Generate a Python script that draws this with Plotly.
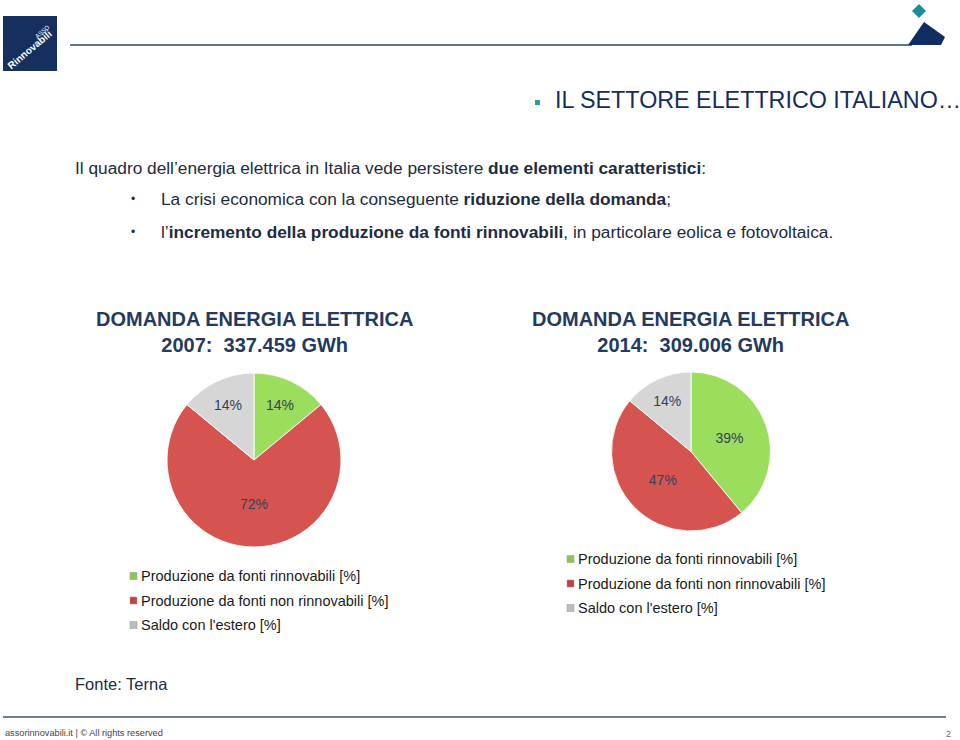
import plotly.graph_objects as go

# ---- data ----
categories = ["Produzione da fonti rinnovabili [%]",
              "Produzione da fonti non rinnovabili [%]",
              "Saldo con l'estero [%]"]
values_2007 = [14, 72, 14]
values_2014 = [39, 47, 14]
titles = ["DOMANDA ENERGIA ELETTRICA<br>2007:  337.459 GWh",
          "DOMANDA ENERGIA ELETTRICA<br>2014:  309.006 GWh"]

W, H = 960, 740
def px(x): return x / W
def py(y): return 1 - y / H

slice_colors = ["#9BDD5C", "#D65450", "#D6D6D6"]
legend_colors = ["#8CC84B", "#C8403F", "#BDBDBD"]
TXT = "#1E2B40"
FONT = "Liberation Sans, Arial"

fig = go.Figure()

# pies
for vals, (x0, x1, y0, y1) in [(values_2007, (167, 341, 373, 547)),
                                (values_2014, (611, 771, 372, 531))]:
    fig.add_trace(go.Pie(
        labels=categories, values=vals, sort=False, direction="clockwise",
        rotation=0, hole=0,
        marker=dict(colors=slice_colors, line=dict(color="rgba(255,255,255,0.9)", width=1)),
        texttemplate="%{value}%", textposition="inside",
        insidetextorientation="horizontal",
        textfont=dict(family=FONT, size=14, color="#34405A"),
        domain=dict(x=[px(x0), px(x1)], y=[py(y1), py(y0)]),
        showlegend=False, hoverinfo="label+value",
    ))

shapes = []
ann = []

# logo
shapes.append(dict(type="rect", xref="paper", yref="paper", x0=px(3), x1=px(57),
                   y0=py(71), y1=py(16), fillcolor="#15305F", line=dict(width=0)))
ann.append(dict(text="<b>Rinnovabili</b>", x=px(30), y=py(50), textangle=-40, xanchor="center",
                font=dict(family=FONT, size=10, color="white")))
ann.append(dict(text="ASSO", x=px(42), y=py(32), textangle=-40, xanchor="center",
                font=dict(family=FONT, size=6, color="white")))

# top line and right decoration
shapes.append(dict(type="line", xref="paper", yref="paper", x0=px(70), x1=px(912),
                   y0=py(45), y1=py(45), line=dict(color="#2D4A68", width=1.5)))
shapes.append(dict(type="path", xref="paper", yref="paper",
                   path=f"M {px(924)},{py(22)} L {px(945)},{py(37)} L {px(941)},{py(45)} L {px(908)},{py(45)} Z",
                   fillcolor="#0F2D62", line=dict(width=0)))
shapes.append(dict(type="path", xref="paper", yref="paper",
                   path=f"M {px(919)},{py(4)} L {px(926)},{py(11)} L {px(919)},{py(18)} L {px(912)},{py(11)} Z",
                   fillcolor="#1B8C9B", line=dict(width=0)))

# title
shapes.append(dict(type="rect", xref="paper", yref="paper", x0=px(535), x1=px(540),
                   y0=py(105), y1=py(100), fillcolor="#2A9A9A", line=dict(width=0)))
ann.append(dict(text="IL SETTORE ELETTRICO ITALIANO…", x=px(553), y=py(100), xanchor="left",
                font=dict(family=FONT, size=23.3, color="#172C5E")))

# body text
BS = 17.3
ann.append(dict(text="Il quadro dell’energia elettrica in Italia vede persistere <b>due elementi caratteristici</b>:",
                x=px(73), y=py(168), xanchor="left",
                font=dict(family=FONT, size=BS, color=TXT)))
ann.append(dict(text="•", x=px(129), y=py(199), xanchor="left",
                font=dict(family=FONT, size=12, color=TXT)))
ann.append(dict(text="La crisi economica con la conseguente <b>riduzione della domanda</b>;",
                x=px(159), y=py(199), xanchor="left",
                font=dict(family=FONT, size=BS, color=TXT)))
ann.append(dict(text="•", x=px(129), y=py(232), xanchor="left",
                font=dict(family=FONT, size=12, color=TXT)))
ann.append(dict(text="l’<b>incremento della produzione da fonti rinnovabili</b>, in particolare eolica e fotovoltaica.",
                x=px(159), y=py(232), xanchor="left",
                font=dict(family=FONT, size=BS, color=TXT)))

# chart titles
for t, cx in zip(titles, [254, 690]):
    ann.append(dict(text=f"<b>{t}</b>", x=px(cx), y=py(332), xanchor="center",
                    font=dict(family=FONT, size=20, color="#243A5E")))

# legends
for (sx, sy) in [(130, 576), (567, 559)]:
    for i, (cat, col) in enumerate(zip(categories, legend_colors)):
        yy = sy + i * 24.5
        shapes.append(dict(type="rect", xref="paper", yref="paper",
                           x0=px(sx), x1=px(sx + 7), y0=py(yy + 3.5), y1=py(yy - 3.5),
                           fillcolor=col, line=dict(color="#9A9A9A", width=0.5)))
        ann.append(dict(text=cat, x=px(sx + 9), y=py(yy), xanchor="left",
                        font=dict(family=FONT, size=14.5, color="#1A1A1A")))

# source
ann.append(dict(text="Fonte: Terna", x=px(73), y=py(684), xanchor="left",
                font=dict(family=FONT, size=16.5, color=TXT)))

# footer
shapes.append(dict(type="line", xref="paper", yref="paper", x0=px(3), x1=px(946),
                   y0=py(717), y1=py(717), line=dict(color="#3A5870", width=1.5)))
ann.append(dict(text="assorinnovabili.it | © All rights reserved", x=px(3), y=py(733), xanchor="left",
                font=dict(family=FONT, size=9.2, color="#444")))
ann.append(dict(text="2", x=px(944), y=py(734), xanchor="left",
                font=dict(family=FONT, size=9, color="#666")))

for a in ann:
    a.setdefault("xref", "paper"); a.setdefault("yref", "paper")
    a.setdefault("yanchor", "middle"); a["showarrow"] = False

fig.update_layout(width=W, height=H, margin=dict(l=0, r=0, t=0, b=0),
                  paper_bgcolor="white", plot_bgcolor="white",
                  shapes=shapes, annotations=ann, showlegend=False)
fig.write_html("out.html", config={"displayModeBar": False},
               post_script="document.body.style.margin='0';document.body.style.overflow='hidden';")
